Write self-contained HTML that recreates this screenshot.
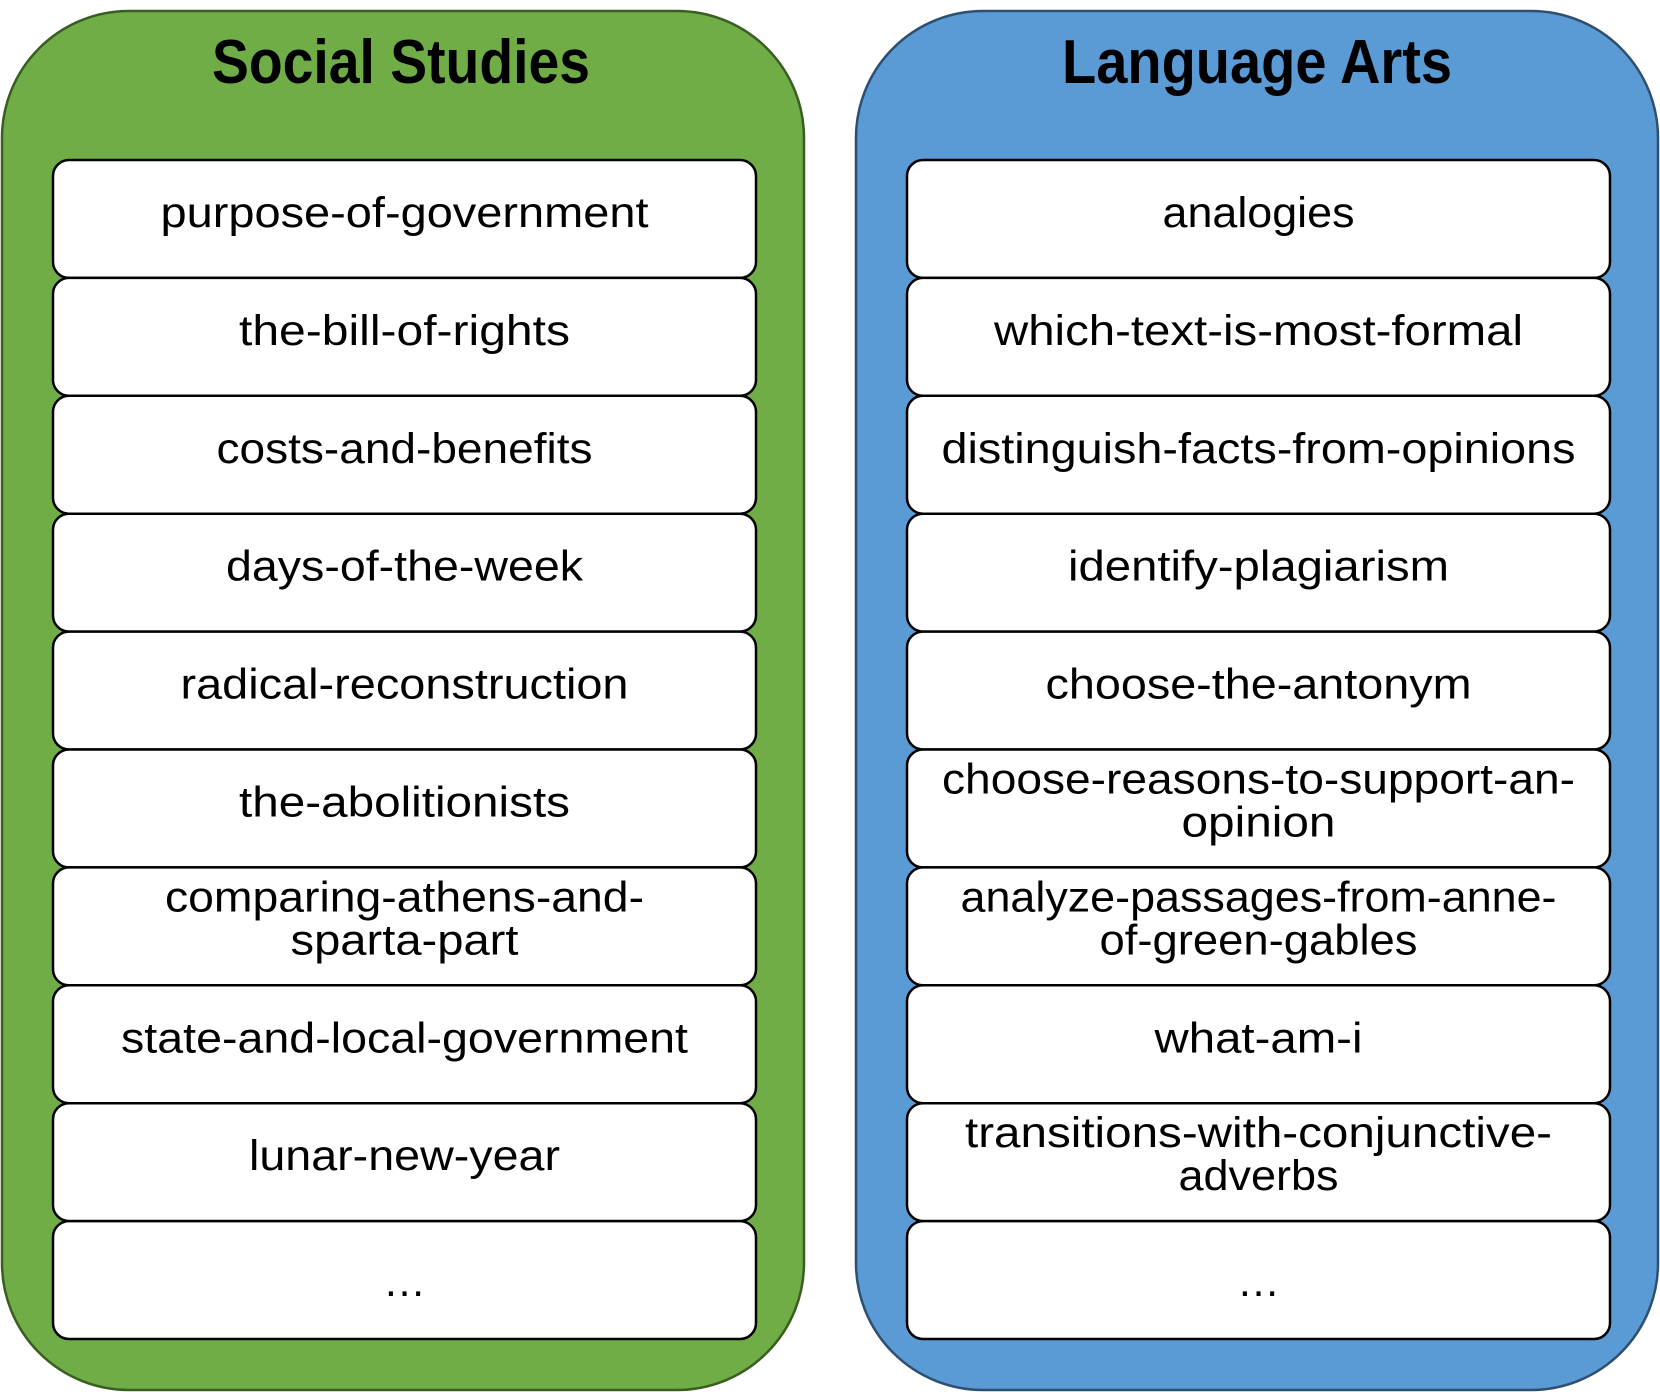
<!DOCTYPE html>
<html><head><meta charset="utf-8"><style>
html,body{margin:0;padding:0;background:#fff;width:1660px;height:1392px;overflow:hidden}
svg text{font-family:"Liberation Sans",sans-serif}
</style></head><body>
<svg id="s" width="1660" height="1392" viewBox="0 0 1660 1392" xmlns="http://www.w3.org/2000/svg">
<rect x="2" y="11" width="802" height="1379" rx="127" fill="#70AD47" stroke="#3a5e22" stroke-width="2.5"/>
<rect x="856" y="11" width="802" height="1379" rx="127" fill="#5B9BD5" stroke="#2d4f70" stroke-width="2.5"/>
<text x="401" y="83" text-anchor="middle" font-size="62" font-weight="bold" textLength="378" lengthAdjust="spacingAndGlyphs">Social Studies</text>
<text x="1257" y="83" text-anchor="middle" font-size="62" font-weight="bold" textLength="390" lengthAdjust="spacingAndGlyphs">Language Arts</text>
</svg>
<script>
const svg=document.getElementById('s');
const NS='http://www.w3.org/2000/svg';
const left=[["purpose-of-government",488],["the-bill-of-rights",331],["costs-and-benefits",376],["days-of-the-week",357],["radical-reconstruction",448],["the-abolitionists",331],[["comparing-athens-and-",479],["sparta-part",228]],["state-and-local-government",567],["lunar-new-year",311],["…",0]];
const right=[["analogies",192],["which-text-is-most-formal",529],["distinguish-facts-from-opinions",634],["identify-plagiarism",381],["choose-the-antonym",426],[["choose-reasons-to-support-an-",633],["opinion",154]],[["analyze-passages-from-anne-",596],["of-green-gables",318]],["what-am-i",208],[["transitions-with-conjunctive-",587],["adverbs",160]],["…",0]];
function col(items,x0,x1,prefix){
  const top=160,step=117.9,cx=(x0+x1)/2;
  items.forEach((it,i)=>{
    const y=top+i*step;
    const r=document.createElementNS(NS,'rect');
    r.setAttribute('x',x0);r.setAttribute('y',y);r.setAttribute('width',x1-x0);r.setAttribute('height',step);
    r.setAttribute('rx',16);r.setAttribute('fill','#fff');r.setAttribute('stroke','#000');r.setAttribute('stroke-width','2.5');
    
    
    svg.appendChild(r);
    const lines=Array.isArray(it[0])?it:[it];
    lines.forEach((ln,j)=>{
      const t=document.createElementNS(NS,'text');
      const by=lines.length===1?(ln[0]==='…'?y+75:y+67):y+44+j*43;
      t.setAttribute('x',cx);t.setAttribute('y',by);t.setAttribute('text-anchor','middle');t.setAttribute('font-size','43');
      if(ln[1]>0){t.setAttribute('textLength',ln[1]);t.setAttribute('lengthAdjust','spacingAndGlyphs');}
      t.textContent=ln[0];
      
      
      svg.appendChild(t);
    });
  });
}
col(left,53,756,'social-studies');
col(right,907,1610,'language-arts');
</script>
</body></html>
